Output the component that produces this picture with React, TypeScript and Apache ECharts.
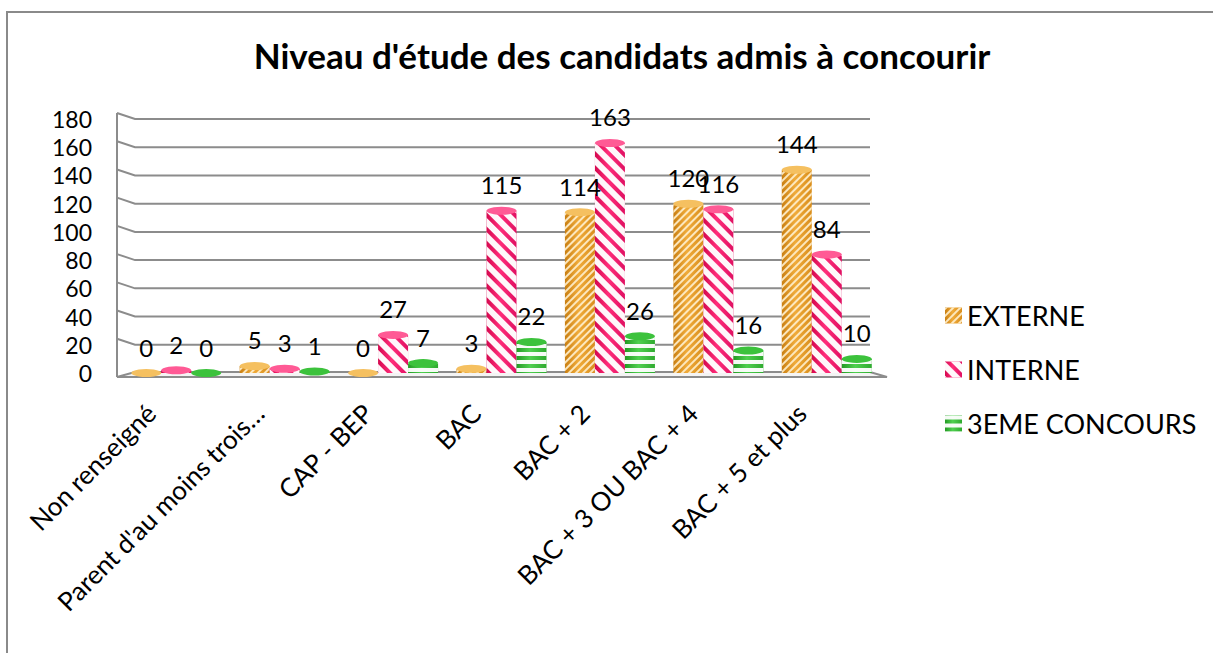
import React, { useEffect, useRef } from "react";
import * as echarts from "echarts";

const titleText = "Niveau d'étude des candidats admis à concourir";
const categories = [
  "Non renseigné",
  "Parent d'au moins trois…",
  "CAP - BEP",
  "BAC",
  "BAC + 2",
  "BAC + 3 OU BAC + 4",
  "BAC + 5 et plus",
];
const seriesNames = ["EXTERNE", "INTERNE", "3EME CONCOURS"];
const externe = [0, 5, 0, 3, 114, 120, 144];
const interne = [2, 3, 27, 115, 163, 116, 84];
const troisieme = [0, 1, 7, 22, 26, 16, 10];
const yTicks = [0, 20, 40, 60, 80, 100, 120, 140, 160, 180];

const FONT = "Lato, 'Open Sans', sans-serif";

function cyl(dark: string, mid: string, light: string) {
  return new echarts.graphic.LinearGradient(0, 0, 1, 0, [
    { offset: 0, color: dark },
    { offset: 0.45, color: light },
    { offset: 1, color: mid },
  ]);
}

export default function App() {
  const ref = useRef<HTMLDivElement>(null);
  useEffect(() => {
    const chart = echarts.init(ref.current!, undefined, { renderer: "svg" });
    const gridLeft = 122;
    const gridRight = 332;
    const gridTop = 119;
    const gridBottom = 280;
    const barW = 30;

    const styles = [
      {
        color: cyl("#c97f12", "#d98e1c", "#f0ab3a"),
        top: "#f5c060",
        decal: {
          symbol: "rect",
          symbolSize: 1,
          dashArrayX: [20, 0],
          dashArrayY: [2, 3],
          rotation: -Math.PI / 4,
          color: "rgba(255,240,205,0.9)",
        },
      },
      {
        color: cyl("#d5084f", "#e01062", "#ff2d7a"),
        top: "#ff5a95",
        decal: {
          symbol: "rect",
          symbolSize: 1,
          dashArrayX: [20, 0],
          dashArrayY: [6, 4],
          rotation: Math.PI / 4,
          color: "rgba(255,255,255,0.97)",
        },
      },
      {
        color: cyl("#239a23", "#2eaa2e", "#4fd04f"),
        top: "#3cc23c",
        decal: {
          symbol: "rect",
          symbolSize: 1,
          dashArrayX: [20, 0],
          dashArrayY: [4, 4],
          rotation: 0,
          color: "rgba(255,255,255,0.95)",
        },
      },
    ];
    const dataSets = [externe, interne, troisieme];

    const barSeries: any[] = dataSets.map((d, i) => ({
      name: seriesNames[i],
      type: "bar",
      data: d,
      barWidth: barW,
      barGap: "0%",
      itemStyle: { color: styles[i].color, decal: styles[i].decal },
      label: {
        show: true,
        position: "top",
        distance: 14,
        fontFamily: FONT,
        fontSize: 24,
        color: "#000",
      },
      z: 3,
    }));
    const topSeries: any[] = dataSets.map((d, i) => ({
      name: seriesNames[i] + " top",
      type: "pictorialBar",
      data: d,
      barWidth: barW,
      barGap: "0%",
      symbol: "circle",
      symbolSize: [barW, 8],
      symbolPosition: "end",
      symbolOffset: [0, "-50%"],
      itemStyle: { color: styles[i].top },
      z: 4,
      silent: true,
    }));

    chart.setOption({
      animation: false,
      backgroundColor: "#ffffff",
      title: {
        text: titleText,
        left: 617,
        textAlign: "center",
        top: 32,
        textStyle: { fontFamily: FONT, fontSize: 35, fontWeight: "bold", color: "#000" },
      },
      legend: {
        data: seriesNames,
        orient: "vertical",
        left: 940,
        top: 297,
        itemWidth: 17,
        itemHeight: 16,
        itemGap: 27,
        textStyle: { fontFamily: FONT, fontSize: 27, color: "#000" },
        icon: "rect",
      },
      grid: { left: gridLeft, right: gridRight, top: gridTop, bottom: gridBottom },
      xAxis: {
        type: "category",
        data: categories,
        axisLine: { show: false },
        axisTick: { show: false },
        axisLabel: {
          interval: 0,
          rotate: 45,
          margin: 10,
          padding: [0, 36, 0, 0],
          fontFamily: FONT,
          fontSize: 26,
          color: "#000",
        },
      },
      yAxis: {
        type: "value",
        min: 0,
        max: 180,
        interval: 20,
        axisLine: { show: false },
        axisTick: { show: false },
        splitLine: { show: false },
        axisLabel: { margin: 30, fontFamily: FONT, fontSize: 23, color: "#000" },
      },
      series: [...barSeries, ...topSeries],
    });

    const ys = yTicks.map((v) => chart.convertToPixel({ yAxisIndex: 0 }, v) as number);
    const x0 = chart.convertToPixel({ xAxisIndex: 0 }, 0) as number;
    const x6 = chart.convertToPixel({ xAxisIndex: 0 }, categories.length - 1) as number;
    const half = (x6 - x0) / (categories.length - 1) / 2;
    const front = x0 - half - 5;
    const back = x0 - half + 13;
    const backRight = x6 + half - 11;
    const frontRight = x6 + half + 6;
    const y0 = ys[0];
    const yTop = ys[ys.length - 1];
    const graphics: any[] = [
      {
        type: "rect",
        shape: { x: 7, y: 12, width: 1240, height: 700 },
        style: { fill: "none", stroke: "#8a8a8a", lineWidth: 2 },
        silent: true,
        z: 0,
      },
      {
        type: "polygon",
        shape: { points: [[front, y0 + 4], [back, y0 - 1], [backRight, y0 - 1], [frontRight, y0 + 4]] },
        style: { fill: "#f4f4f4", stroke: "#8c8c8c", lineWidth: 2 },
        silent: true,
        z: 0,
      },
      {
        type: "line",
        shape: { x1: front, y1: yTop - 6, x2: front, y2: y0 + 4 },
        style: { stroke: "#8c8c8c", lineWidth: 2 },
        silent: true,
        z: 0,
      },
    ];
    ys.forEach((y, i) => {
      if (i === 0) return;
      graphics.push({
        type: "polyline",
        shape: { points: [[front, y - 6], [back, y], [backRight, y]] },
        style: { stroke: "#8c8c8c", lineWidth: 2, fill: "none" },
        silent: true,
        z: 0,
      });
    });
    chart.setOption({ graphic: graphics });

    return () => chart.dispose();
  }, []);
  return (
    <div
      ref={ref}
      style={{ position: "absolute", left: 0, top: 0, width: 1213, height: 653 }}
    />
  );
}
